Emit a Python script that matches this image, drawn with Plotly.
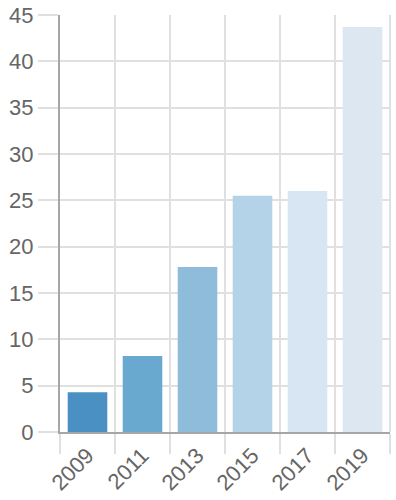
import plotly.graph_objects as go

years = ["2009", "2011", "2013", "2015", "2017", "2019"]
values = [4.3, 8.2, 17.8, 25.5, 26.0, 43.7]
colors = ["#4a90c2", "#6aa9cf", "#8fbcdb", "#b4d3e8", "#d7e6f2", "#dce7f1"]

fig = go.Figure(
    go.Bar(
        x=years,
        y=values,
        marker=dict(color=colors, line=dict(width=0)),
        hoverinfo="x+y",
    )
)

grid = "#e0e0e0"
axis = "#a6a6a6"
font = dict(family="Liberation Sans, Arial, sans-serif", size=22, color="#666666")

fig.update_layout(
    width=396,
    height=500,
    margin=dict(l=60, r=6, t=15, b=68),
    plot_bgcolor="white",
    paper_bgcolor="white",
    bargap=0.28,
    showlegend=False,
    font=font,
    shapes=[
        dict(type="line", xref="paper", yref="paper", x0=1, x1=1, y0=0, y1=1,
             line=dict(color=grid, width=2)),
    ],
)
fig.update_xaxes(
    type="category",
    tickson="boundaries",
    automargin=False,
    showgrid=True,
    gridcolor=grid,
    gridwidth=2,
    ticks="outside",
    ticklen=20,
    tickwidth=2,
    tickcolor=grid,
    tickangle=-45,
    showline=True,
    linecolor=axis,
    linewidth=2,
    tickfont=font,
)
fig.update_yaxes(
    range=[0, 45],
    dtick=5,
    automargin=False,
    showgrid=True,
    gridcolor=grid,
    gridwidth=2,
    ticks="outside",
    ticklen=20,
    tickwidth=2,
    tickcolor=grid,
    showline=True,
    linecolor=axis,
    linewidth=2,
    zeroline=False,
    tickfont=font,
)

fig.write_html(
    "out.html",
    config={"displayModeBar": False},
    post_script="document.body.style.margin='0';document.body.style.padding='0';",
)
